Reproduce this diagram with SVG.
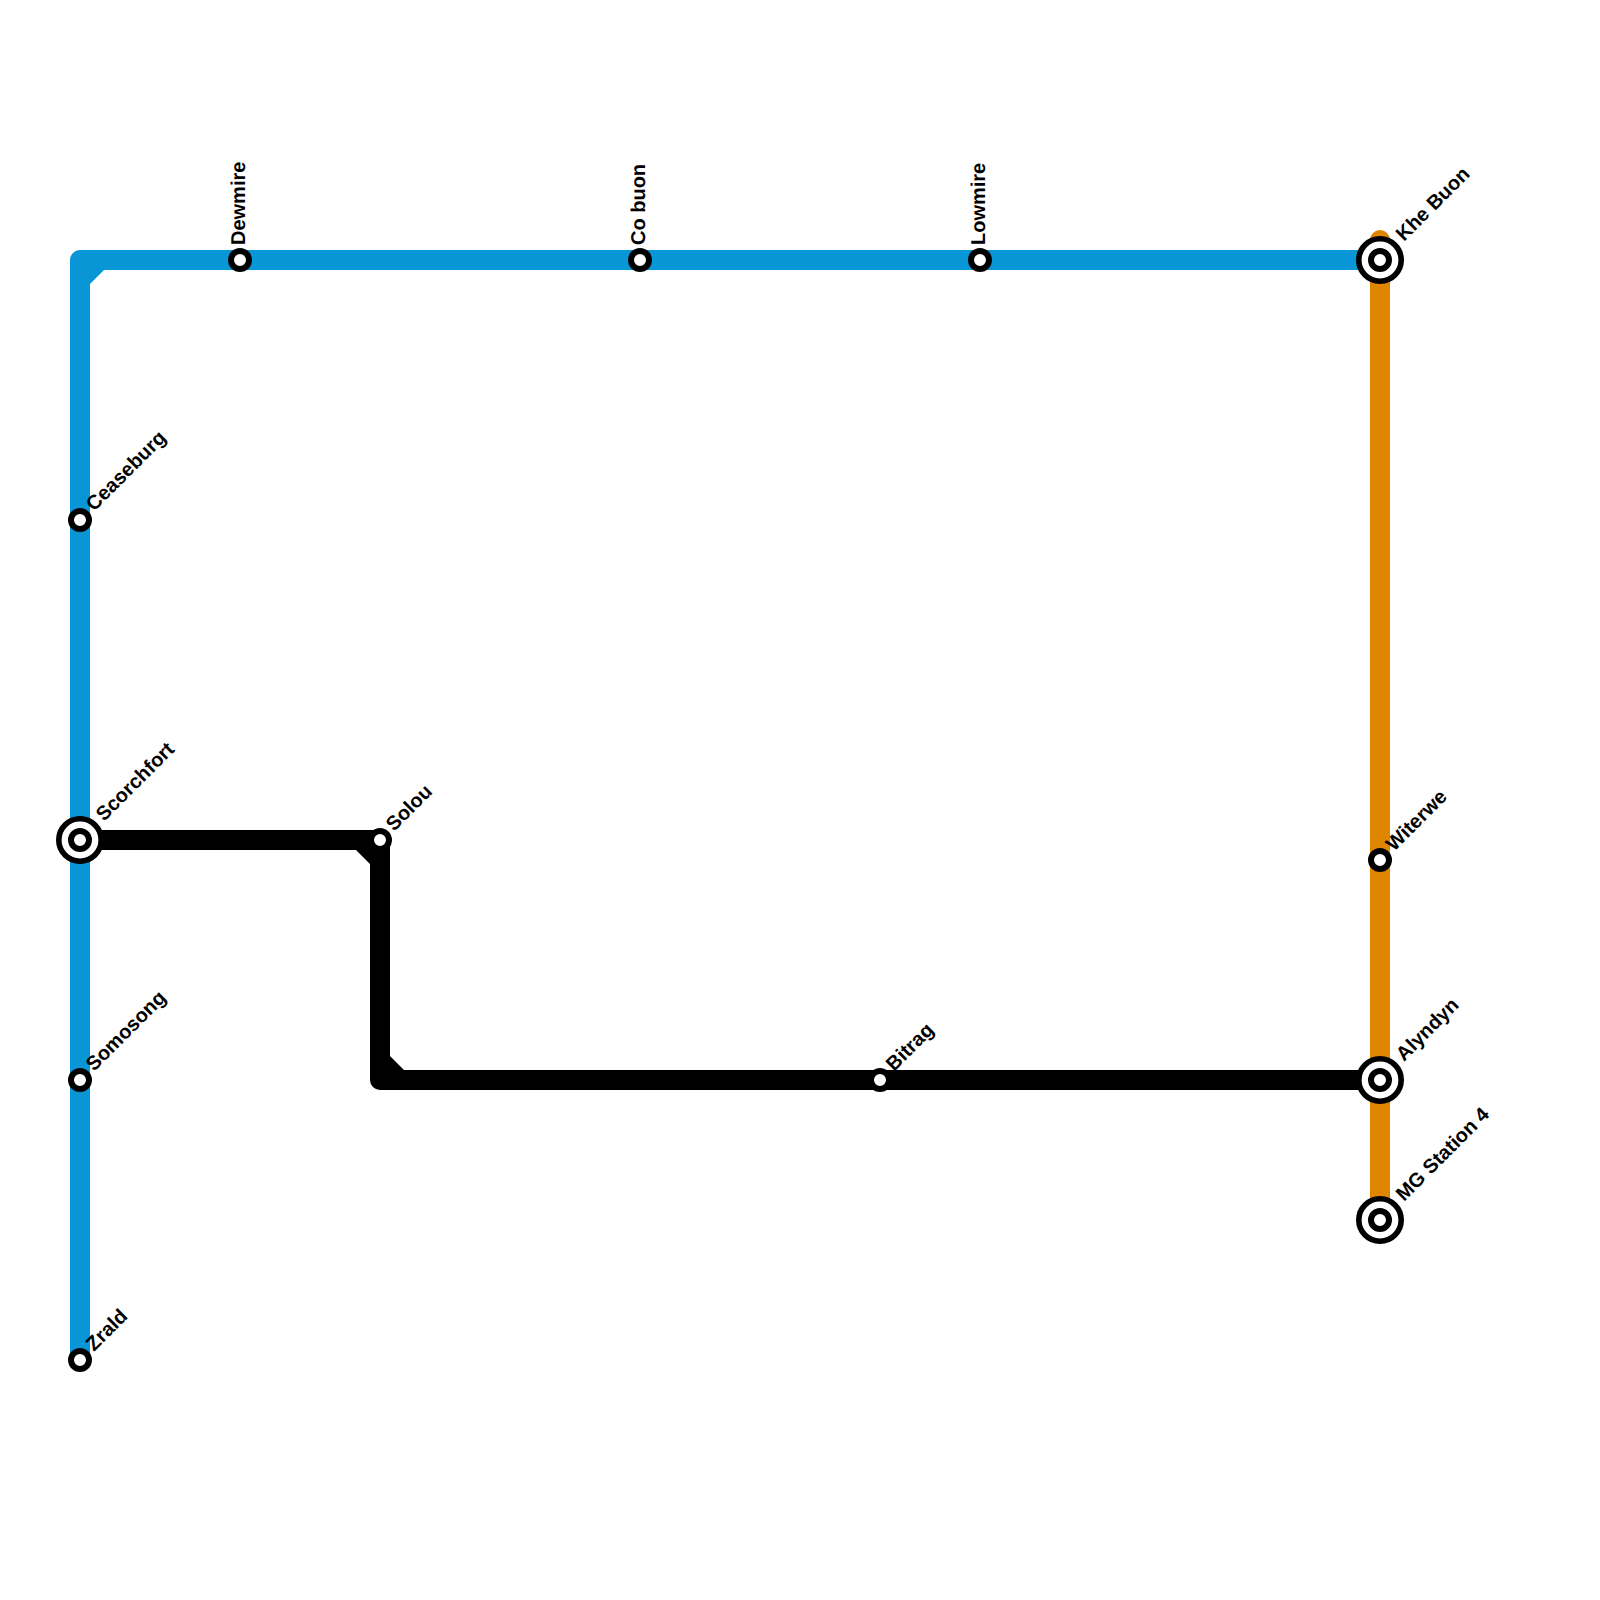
<svg xmlns="http://www.w3.org/2000/svg" width="1600" height="1600" viewBox="0 0 1600 1600">
<style>
.line{fill:none;stroke-width:20;stroke-linejoin:round;stroke-linecap:butt}
.blue{stroke:#0896d7}.orange{stroke:#df8600;stroke-linecap:round}.black{stroke:#000}
.o{fill:#fff;stroke:#000;stroke-width:5.6}
.i{fill:#fff;stroke:#000;stroke-width:6}
text{font-family:"Liberation Sans",Arial,sans-serif;font-weight:700;font-size:20px;fill:#000;text-rendering:geometricPrecision}
</style>
<rect width="1600" height="1600" fill="#fff"/>
<g id="connectors">
<path class="line orange" d="M1380 240V1220"/>
<path class="line blue" d="M80 1360V260H1380"/>
<path d="M90 270H104L90 284Z" fill="#0896d7"/>
<path class="line black" d="M80 840H380V1080H1380"/>
<path d="M370 850H356L370 864ZM390 1070H404L390 1056Z" fill="#000"/>
</g>
<g id="dewmire"><circle class="i" cx="240" cy="260" r="9"/><text transform="translate(245 245) rotate(-90)">Dewmire</text></g>
<g id="cobuon"><circle class="i" cx="640" cy="260" r="9"/><text transform="translate(645 245) rotate(-90)">Co buon</text></g>
<g id="lowmire"><circle class="i" cx="980" cy="260" r="9"/><text transform="translate(985 245) rotate(-90)">Lowmire</text></g>
<g id="khebuon"><circle class="o" cx="1380" cy="260" r="21.2"/><circle class="i" cx="1380" cy="260" r="9"/><text transform="translate(1404 242) rotate(-45)">Khe Buon</text></g>
<g id="ceaseburg"><circle class="i" cx="80" cy="520" r="9"/><text transform="translate(94 512) rotate(-45)">Ceaseburg</text></g>
<g id="scorchfort"><circle class="o" cx="80" cy="840" r="21.2"/><circle class="i" cx="80" cy="840" r="9"/><text transform="translate(104 822) rotate(-45)">Scorchfort</text></g>
<g id="somosong"><circle class="i" cx="80" cy="1080" r="9"/><text transform="translate(94 1072) rotate(-45)">Somosong</text></g>
<g id="zrald"><circle class="i" cx="80" cy="1360" r="9"/><text transform="translate(94 1352) rotate(-45)">Zrald</text></g>
<g id="solou"><circle class="i" cx="380" cy="840" r="9"/><text transform="translate(394 832) rotate(-45)">Solou</text></g>
<g id="bitrag"><circle class="i" cx="880" cy="1080" r="9"/><text transform="translate(894 1072) rotate(-45)">Bitrag</text></g>
<g id="witerwe"><circle class="i" cx="1380" cy="860" r="9"/><text transform="translate(1394 852) rotate(-45)">Witerwe</text></g>
<g id="alyndyn"><circle class="o" cx="1380" cy="1080" r="21.2"/><circle class="i" cx="1380" cy="1080" r="9"/><text transform="translate(1404 1062) rotate(-45)">Alyndyn</text></g>
<g id="mgstation4"><circle class="o" cx="1380" cy="1220" r="21.2"/><circle class="i" cx="1380" cy="1220" r="9"/><text transform="translate(1404 1202) rotate(-45)">MG Station 4</text></g>
</svg>
